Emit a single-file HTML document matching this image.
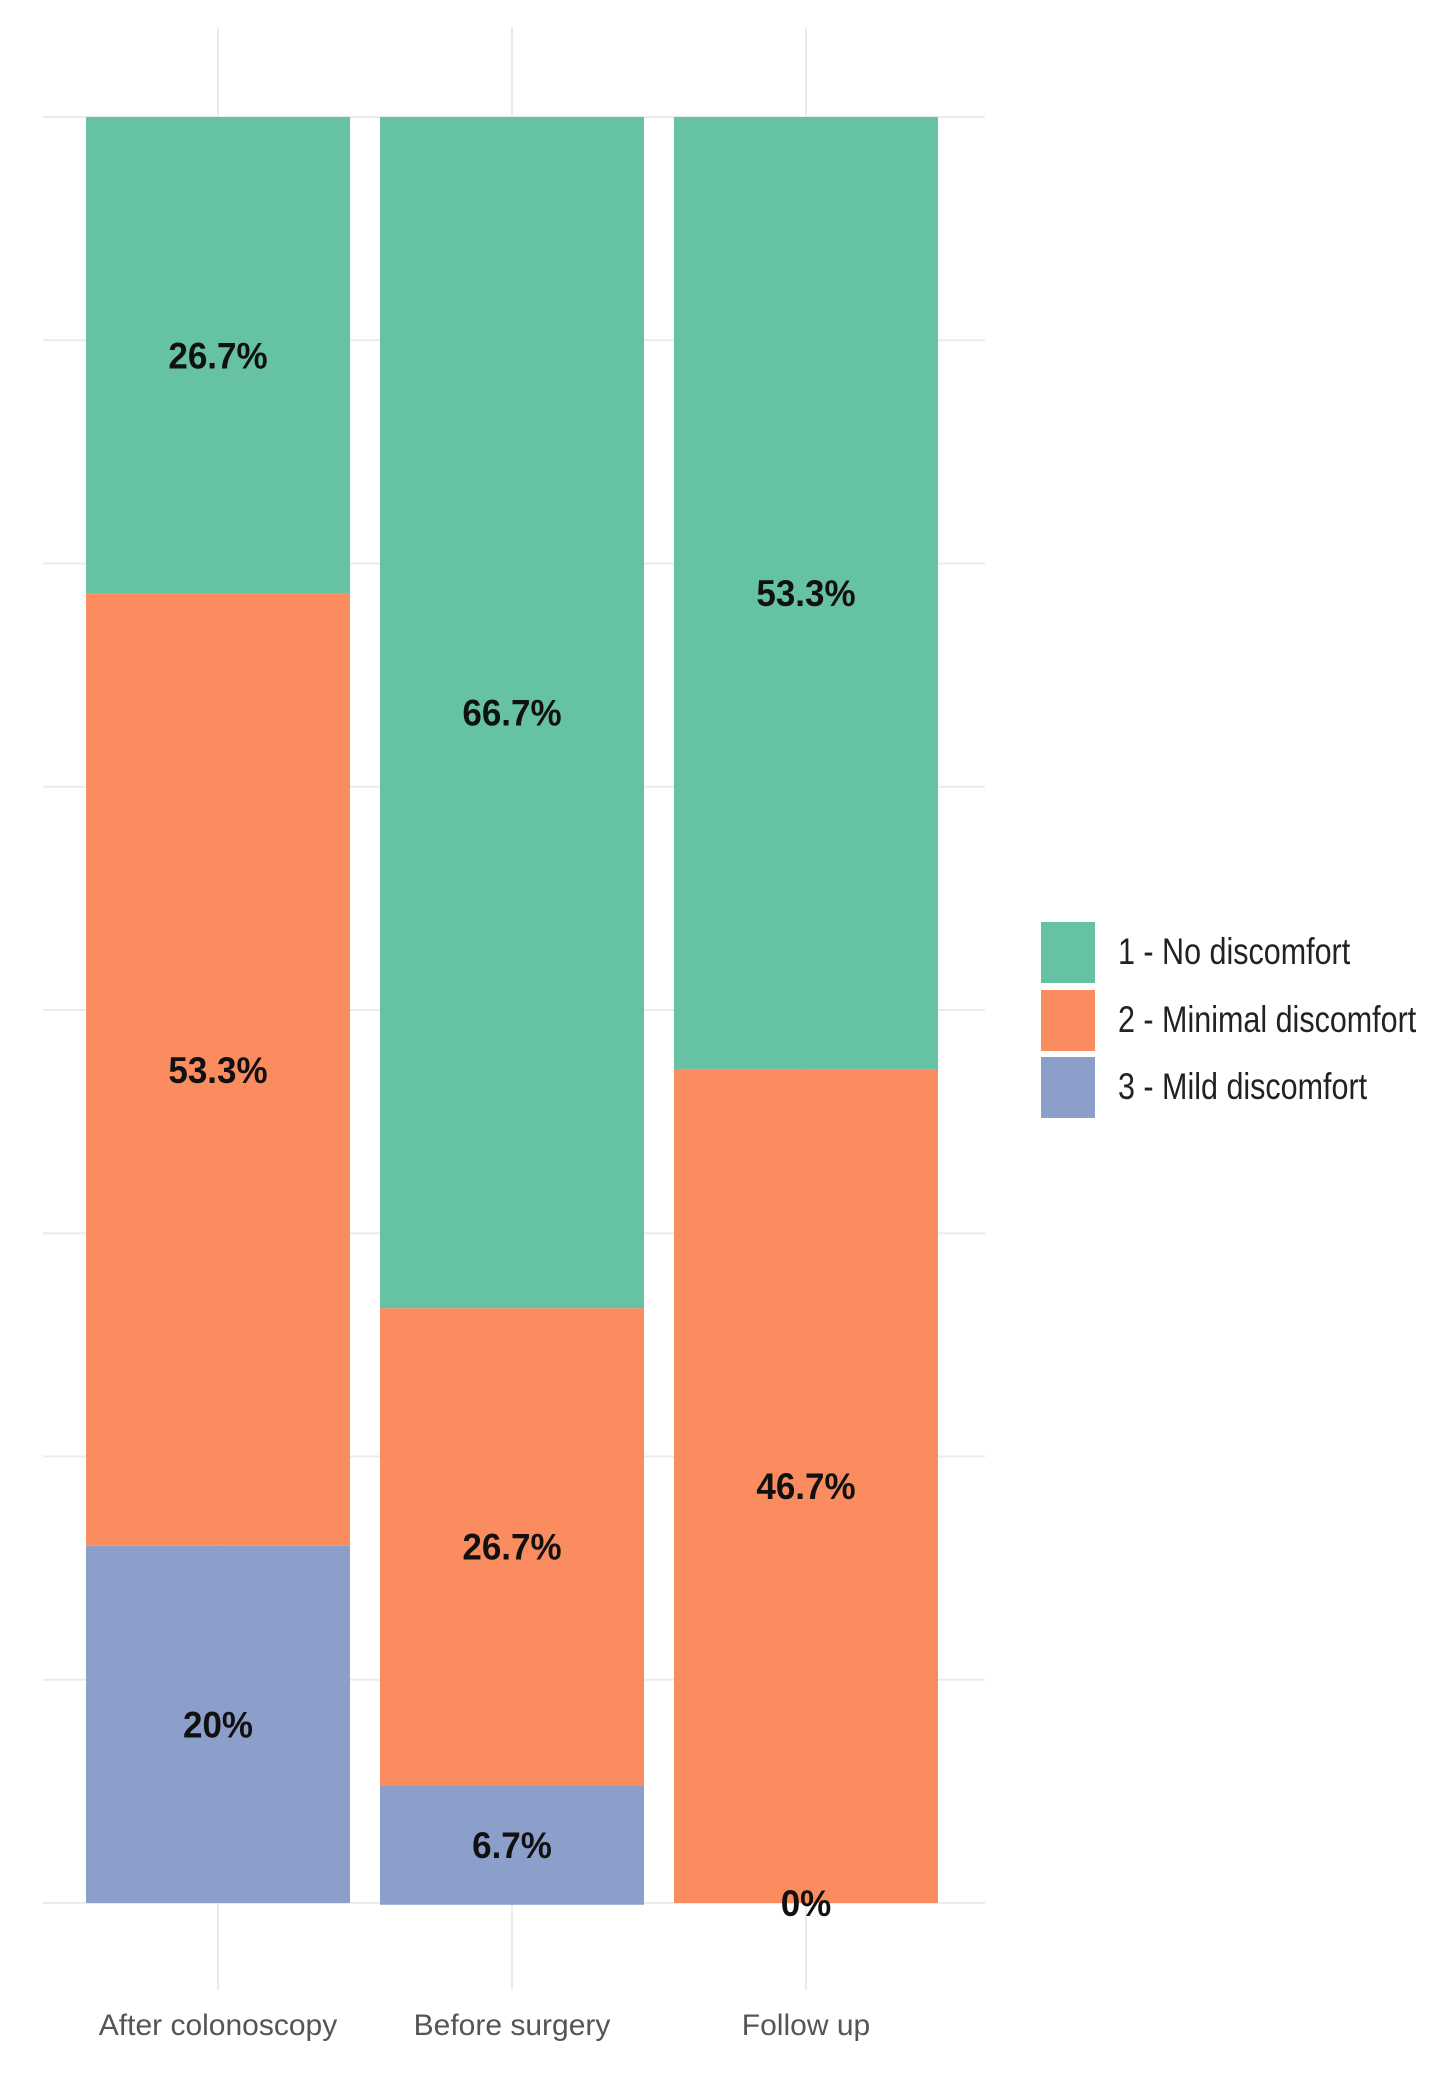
<!DOCTYPE html>
<html><head><meta charset="utf-8"><style>
html,body{margin:0;padding:0;background:#fff;}
svg{display:block;}
text{font-family:"Liberation Sans",Arial,sans-serif;}
</style></head><body>
<svg id="chart" width="1435" height="2083" viewBox="0 0 1435 2083" xmlns="http://www.w3.org/2000/svg">
<g id="grid"></g>
<g id="bars"></g>
<g id="labels"></g>
<g id="xaxis"></g>
<g id="legend"></g>
</svg>
<script>
const categories = ["After colonoscopy", "Before surgery", "Follow up"];
const seriesNames = ["1 - No discomfort", "2 - Minimal discomfort", "3 - Mild discomfort"];
const noDiscomfort = [26.7, 66.7, 53.3];
const minimalDiscomfort = [53.3, 26.7, 46.7];
const mildDiscomfort = [20, 6.7, 0];
const valueLabels = [["26.7%","66.7%","53.3%"],["53.3%","26.7%","46.7%"],["20%","6.7%","0%"]];
const colors = ["#66c2a5", "#fa8c5f", "#8c9fcb"];

const NS = "http://www.w3.org/2000/svg";
const plotTop = 117, plotBottom = 1903, plotL = 43, plotR = 985;
const x0 = 218, step = 294, barW = 264;
function xPos(i){ return x0 + i*step; }
function yPos(p){ const total = 100; return plotBottom - (p/total)*(plotBottom-plotTop); }
function mk(tag, attrs, parent){ const e=document.createElementNS(NS,tag); for(const k in attrs) e.setAttribute(k,attrs[k]); parent.appendChild(e); return e; }

const grid = document.getElementById("grid");
for(let k=0;k<=8;k++){
  const y = plotTop + k*(plotBottom-plotTop)/8;
  const l = mk("line",{x1:plotL,x2:plotR,y1:y,y2:y,stroke:"#ebebeb","stroke-width":2},grid);
  
  
}
categories.forEach((c,i)=>{
  const l = mk("line",{x1:xPos(i),x2:xPos(i),y1:27,y2:1990,stroke:"#ebebeb","stroke-width":2},grid);
  
  
});

const series = [noDiscomfort, minimalDiscomfort, mildDiscomfort];
const bars = document.getElementById("bars");
const labels = document.getElementById("labels");
categories.forEach((c,i)=>{
  let cum = 100;
  series.forEach((s,si)=>{
    const v = s[i];
    const yTop = yPos(cum), yBot = yPos(cum - v);
    const r = mk("rect",{x:xPos(i)-barW/2,y:yTop,width:barW,height:Math.max(0,yBot-yTop),fill:colors[si]},bars);
    
    
    const ym = (yTop+yBot)/2;
    const t = mk("text",{transform:`translate(${xPos(i)},${ym+13}) scale(1,1.07)`,"text-anchor":"middle","font-size":35,"font-weight":"bold",fill:"#111"},labels);
    t.textContent = valueLabels[si][i];
    
    
    cum -= v;
  });
});

const xaxis = document.getElementById("xaxis");
categories.forEach((c,i)=>{
  const t = mk("text",{transform:`translate(${xPos(i)},${2035})`,"text-anchor":"middle","font-size":30,fill:"#555"},xaxis);
  t.textContent = c;
  
  
});

const legend = document.getElementById("legend");
const legY = [922, 990, 1057];
seriesNames.forEach((n,si)=>{
  const r = mk("rect",{x:1041,y:legY[si],width:54,height:61,fill:colors[si]},legend);
  
  
  const t = mk("text",{transform:`translate(1118,${legY[si]+30+12}) scale(1,1.22)`,"font-size":30.5,fill:"#222"},legend);
  t.textContent = n;
  
  
});
</script>
</body></html>
